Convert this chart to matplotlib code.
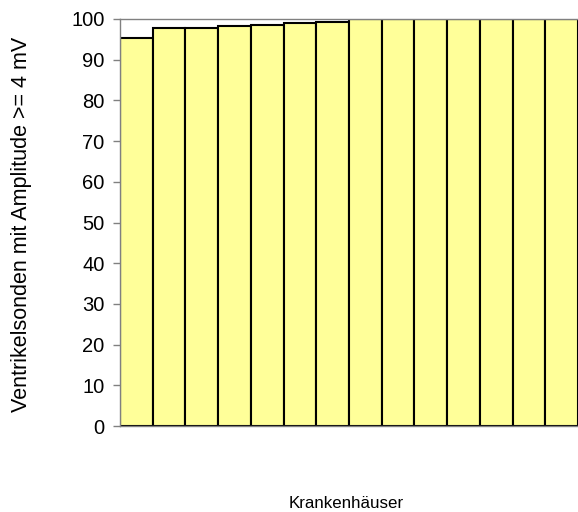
import numpy as np
import matplotlib.pyplot as plt

plt.rcParams['font.family'] = ['Liberation Sans', 'DejaVu Sans']

# share of ventricular leads with amplitude >= 4 mV, per hospital
werte = [95.4, 97.7, 97.9, 98.3, 98.5, 98.9, 99.3, 100, 100, 100, 100, 100, 100, 100]
y_ticks = [0, 10, 20, 30, 40, 50, 60, 70, 80, 90, 100]

fig = plt.figure(figsize=(5.78, 5.12), dpi=100)
ax = fig.add_axes([120 / 578, 1 - 426 / 512, (578 - 120) / 578, (426 - 19) / 512])

x = np.arange(len(werte))
ax.bar(x, werte, width=1.0, align='edge', color='#FFFF99', edgecolor='black', linewidth=1.5)

ax.set_xlim(0, len(werte))
ax.set_ylim(0, 100)
ax.set_yticks(y_ticks)
ax.set_xticks([])
ax.tick_params(axis='y', labelsize=14.5, length=5, color='#808080', width=1, pad=6)
for s in ['left', 'bottom', 'top']:
    ax.spines[s].set_color('#808080')
    ax.spines[s].set_linewidth(1)
ax.spines['right'].set_visible(False)

fig.text(22 / 578, 1 - 224 / 512, 'Ventrikelsonden mit Amplitude >= 4 mV', rotation=90,
         ha='center', va='center', fontsize=15.5)
fig.text(346 / 578, 1 - 503 / 512, 'Krankenhäuser', ha='center', va='center', fontsize=12.2)

fig.savefig('out.png', dpi=100)
